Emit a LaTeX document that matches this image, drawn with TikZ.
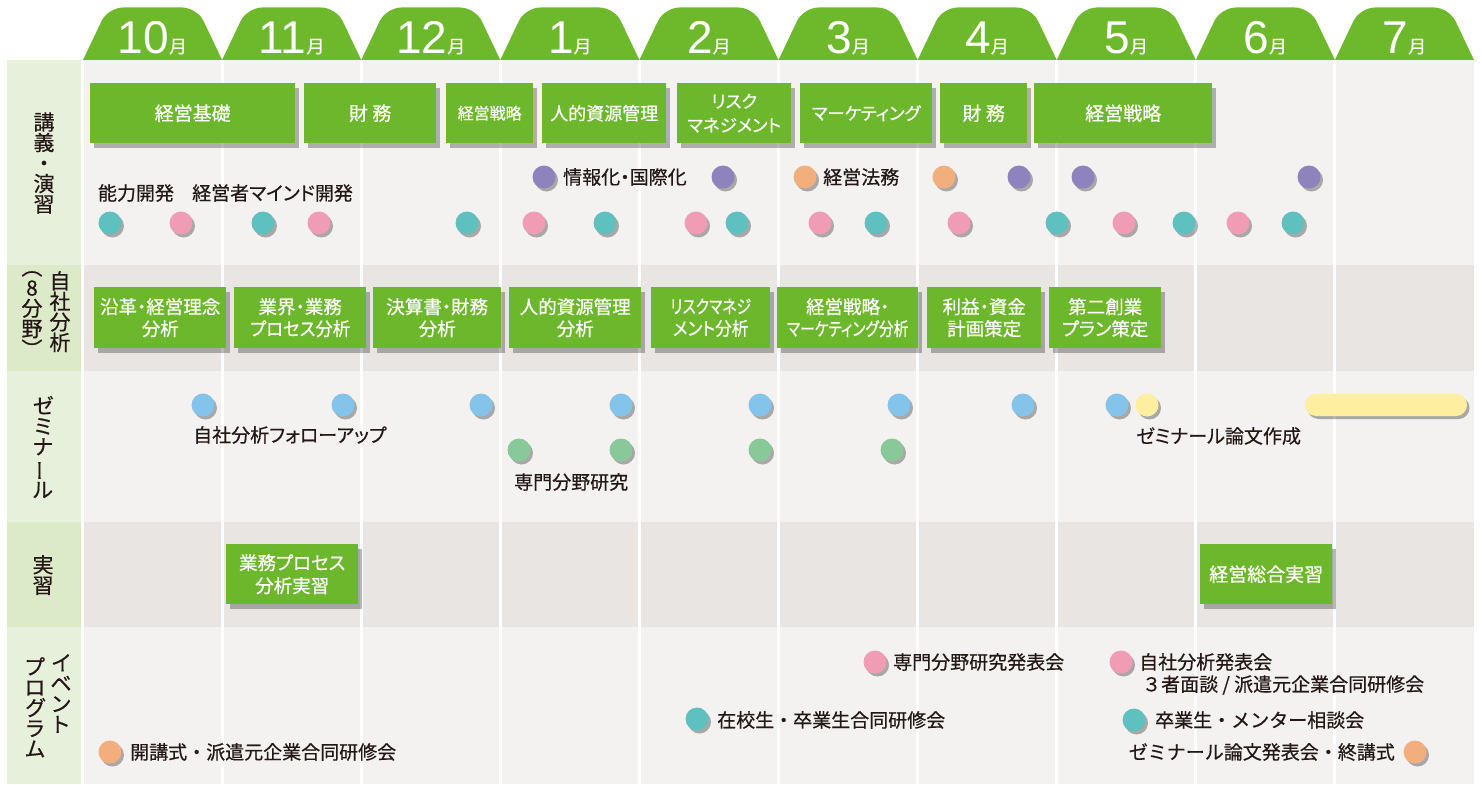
\documentclass[tikz,border=0pt]{standalone}
\usepackage{fontspec}
\usepackage{graphicx}
\setmainfont{Noto Sans CJK JP}[RawFeature={+palt}, FakeBold=0.5]
\newfontfamily\jpfull{Noto Sans CJK JP}[FakeBold=0.5]
\newfontfamily\numfont{Liberation Sans}
\usetikzlibrary{shadows}
\definecolor{tabgreen}{HTML}{6EB92B}
\definecolor{boxgreen}{HTML}{6DB72C}
\definecolor{bglight}{HTML}{F3F2F0}
\definecolor{bgdark}{HTML}{E9E5E2}
\definecolor{lablight}{HTML}{E6F0DB}
\definecolor{labdark}{HTML}{DCEAC9}
\definecolor{ink}{HTML}{231815}
\definecolor{cteal}{HTML}{5FC1BF}
\definecolor{cpink}{HTML}{F09CB5}
\definecolor{cpurple}{HTML}{8E83BD}
\definecolor{corange}{HTML}{F3AE7D}
\definecolor{cblue}{HTML}{84C3EA}
\definecolor{cgreen}{HTML}{89C899}
\definecolor{cyellow}{HTML}{FEEE9F}
\newcommand\myfs[2]{\fontsize{#1}{#2}\selectfont}
\newcommand\vbar{\rotatebox[origin=c]{90}{ー}}
\newcommand\sqz[2]{\scalebox{#1}[1]{#2}}
\tikzset{
  gbox/.style={fill=boxgreen, text=white, inner sep=0pt, align=center,
    drop shadow={shadow xshift=4pt, shadow yshift=-5pt, opacity=.28, fill=black}},
  dot/.style={circle, minimum size=23pt, inner sep=0pt,
    drop shadow={shadow xshift=2.5pt, shadow yshift=-3pt, opacity=.3, fill=black}},
  barshape/.style={rectangle, rounded corners=11pt, minimum width=162pt, minimum height=22pt, inner sep=0pt,
    drop shadow={shadow xshift=2.5pt, shadow yshift=-3pt, opacity=.3, fill=black}},
  lbl/.style={text=ink, inner sep=0pt, font=\myfs{19}{23}},
  rowlbl/.style={text=ink, inner sep=0pt, align=center, font=\myfs{21}{20.5}},
  monthtxt/.style={text=white, inner sep=0pt, anchor=base},
}
\newcommand\gbx[7]{\node[gbox, anchor=north west, minimum width={#4-#2}, minimum height={#5-#3}, font=#7] (#1) at (#2,#3) {#6};}
\begin{document}
\begin{tikzpicture}[x=1pt,y=-1pt]
\useasboundingbox (0,0) rectangle (1482,784);
\fill[white] (0,0) rectangle (1482,784);
% row backgrounds
\fill[bglight] (84,60) rectangle (1474,265);
\fill[bgdark] (84,265) rectangle (1474,371);
\fill[bglight] (84,371) rectangle (1474,522);
\fill[bgdark] (84,522) rectangle (1474,627);
\fill[bglight] (84,627) rectangle (1474,784);
% label column
\fill[lablight] (7,60) rectangle (81,265);
\fill[labdark] (7,265) rectangle (81,371);
\fill[lablight] (7,371) rectangle (81,522);
\fill[labdark] (7,522) rectangle (81,627);
\fill[lablight] (7,627) rectangle (81,784);
% column separators
\foreach \i in {1,...,9}
  \draw[white, line width=3pt] ({83+139.1*\i},60) -- ({83+139.1*\i},784);
% month tabs
\foreach \m [count=\i from 0] in {10,11,12,1,2,3,4,5,6,7} {
  \pgfmathsetmacro\xa{83+139.1*\i}
  \fill[tabgreen, rounded corners=15pt] (\xa,60) -- ({\xa+25},7.5) -- ({\xa+114.1},7.5) -- ({\xa+139.1},60);
  \node[monthtxt] (m\i) at ({\xa+69.5},53) {{\numfont\myfs{46}{46}\m}{\jpfull\myfs{18}{18}月}};
}
% row labels
\node[rowlbl] (l1) at (44,163) {講\\義\\・\\演\\習};
\node[rowlbl, anchor=north] (l2a) at (60,271) {自\\社\\分\\析};
\node[rowlbl, anchor=north] (l2b) at (32,271) {︵\\8\\分\\野\\︶};
\node[rowlbl] (l3) at (43,447) {ゼ\\ミ\\ナ\\\vbar\\ル};
\node[rowlbl] (l4) at (43,575) {実\\習};
\node[rowlbl, anchor=north] (l5a) at (61,654) {イ\\ベ\\ン\\ト};
\node[rowlbl, anchor=north] (l5b) at (35,657) {プ\\ロ\\グ\\ラ\\ム};
% row 1 boxes
\gbx{b1}{90}{83}{295}{143}{経営基礎}{\myfs{19}{24}}
\gbx{b2}{304}{83}{436}{143}{財 務}{\myfs{19}{24}}
\gbx{b3}{446}{83}{533}{143}{経営戦略}{\myfs{16}{24}}
\gbx{b4}{542}{83}{666}{143}{人的資源管理}{\myfs{18}{24}}
\gbx{b5}{677}{83}{791}{143}{リスク\\マネジメント}{\myfs{17.5}{24}}
\gbx{b6}{800}{83}{932}{143}{マーケティング}{\myfs{17.5}{24}}
\gbx{b7}{940}{83}{1027}{143}{財 務}{\myfs{19}{24}}
\gbx{b8}{1034}{83}{1212}{143}{経営戦略}{\myfs{19}{24}}
% row 2 boxes
\gbx{c1}{94}{287}{226}{348}{沿革・経営理念\\分析}{\myfs{18.5}{22}}
\gbx{c2}{234}{287}{366}{348}{業界・業務\\\sqz{0.94}{プロセス分析}}{\myfs{18.5}{22}}
\gbx{c3}{373}{287}{501}{348}{決算書・財務\\分析}{\myfs{18.5}{22}}
\gbx{c4}{509}{287}{641}{348}{人的資源管理\\分析}{\myfs{18.5}{22}}
\gbx{c5}{651}{287}{770}{348}{\sqz{0.8}{リスクマネジ}\\\sqz{0.9}{メント分析}}{\myfs{18.5}{22}}
\gbx{c6}{777}{287}{918}{348}{経営戦略・\\\sqz{0.8}{マーケティング分析}}{\myfs{18.5}{22}}
\gbx{c7}{927}{287}{1041}{348}{利益・資金\\計画策定}{\myfs{18.5}{22}}
\gbx{c8}{1049}{287}{1161}{348}{第二創業\\プラン策定}{\myfs{18.5}{22}}
% row 4 boxes
\gbx{e1}{226}{544}{358}{604}{業務プロセス\\分析実習}{\myfs{18.5}{23}}
\gbx{e2}{1200}{544}{1332}{604}{経営総合実習}{\myfs{19}{23}}
% row 1 dots
\foreach \x [count=\k] in {544,723,1019,1083,1309}
  \node[dot, fill=cpurple] (pu\k) at (\x,177) {};
\foreach \x [count=\k] in {805,944}
  \node[dot, fill=corange] (or\k) at (\x,177) {};
\foreach \x [count=\k] in {110,263,467,605,737,876,1057,1184,1293}
  \node[dot, fill=cteal] (te\k) at (\x,223) {};
\foreach \x [count=\k] in {181,319,534,696,820,959,1124,1238}
  \node[dot, fill=cpink] (pk\k) at (\x,223) {};
\node[lbl] (t1) at (136,193) {能力開発};
\node[lbl, anchor=west] (t2) at (192,193) {経営者マインド開発};
\node[lbl, anchor=west] (t3) at (563,177) {情報化・国際化};
\node[lbl, anchor=west] (t4) at (823,177) {経営法務};
% row 3
\foreach \x [count=\k] in {203,343,481,621,760,899,1023,1117}
  \node[dot, fill=cblue] (bl\k) at (\x,405) {};
\node[dot, fill=cyellow] (ye1) at (1147,405) {};
\node[barshape, fill=cyellow] (yebar) at (1386,405) {};
\foreach \x [count=\k] in {519,621,760,892}
  \node[dot, fill=cgreen] (gr\k) at (\x,450) {};
\node[lbl, anchor=west] (t5) at (193,435) {自社分析フォローアップ};
\node[lbl, anchor=west] (t6) at (514,482) {専門分野研究};
\node[lbl, anchor=west] (t7) at (1136,436) {ゼミナール論文作成};
% row 5 events
\node[dot, fill=corange] (ev1) at (110,752) {};
\node[lbl, anchor=west, font=\jpfull\myfs{19}{23}] (et1) at (130,752) {開講式・派遣元企業合同研修会};
\node[dot, fill=cteal] (ev2) at (697,719) {};
\node[lbl, anchor=west, font=\jpfull\myfs{19}{23}] (et2) at (717,720) {在校生・卒業生合同研修会};
\node[dot, fill=cpink] (ev3) at (875,662) {};
\node[lbl, anchor=west] (et3) at (893,662) {専門分野研究発表会};
\node[dot, fill=cpink] (ev4) at (1121,662) {};
\node[lbl, anchor=west] (et4) at (1139,662) {自社分析発表会};
\node[lbl, anchor=west] (et5) at (1142,685) {{\jpfull ３}者面談 / 派遣元企業合同研修会};
\node[dot, fill=cteal] (ev5) at (1134,720) {};
\node[lbl, anchor=west, font=\jpfull\myfs{19}{23}] (et6) at (1155,720) {卒業生・メンター相談会};
\node[lbl, anchor=east, font=\jpfull\myfs{19}{23}] (et7) at (1395,752) {ゼミナール論文発表会・終講式};
\node[dot, fill=corange] (ev6) at (1415,752) {};
\end{tikzpicture}
\end{document}
